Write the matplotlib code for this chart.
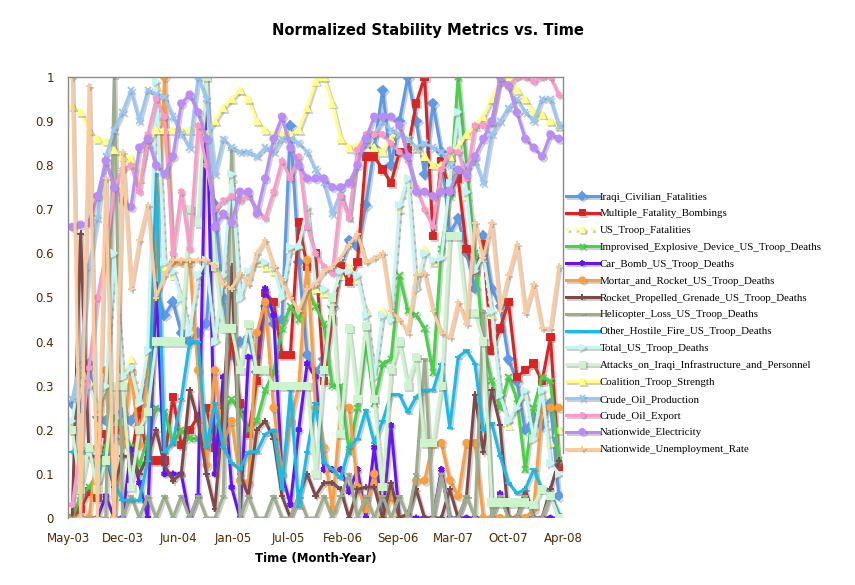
import numpy as np
import matplotlib
matplotlib.use('Agg')
import matplotlib.pyplot as plt
import matplotlib.patheffects as pe

# ---- data (normalized, 59 monthly points, May-03 .. Mar-08) ----
x_tick_labels = ['May-03', 'Dec-03', 'Jun-04', 'Jan-05', 'Jul-05', 'Feb-06',
                 'Sep-06', 'Mar-07', 'Oct-07', 'Apr-08']

iraqi_civilian_fatalities = [
    0.26, 0.25, 0.35, 0.23, 0.22, 0.18, 0.24, 0.22, 0.26, 0.31,
    0.52, 0.46, 0.49, 0.42, 0.40, 0.42, 0.44, 0.71, 0.50, 0.37,
    0.40, 0.41, 0.33, 0.48, 0.44, 0.45, 0.89, 0.58, 0.37, 0.33,
    0.36, 0.48, 0.57, 0.63, 0.615, 0.71, 0.84, 0.97, 0.80, 0.90,
    1.0, 0.90, 0.78, 0.94, 0.83, 0.645, 0.68, 0.60, 0.52, 0.64,
    0.52, 0.48, 0.36, 0.31, 0.20, 0.23, 0.21, 0.26, 0.05]
multiple_fatality_bombings = [
    0.0, 0.02, 0.06, 0.045, 0.19, 0.20, 0.20, 0.13, 0.25, 0.13,
    0.13, 0.13, 0.275, 0.165, 0.20, 0.23, 0.25, 0.16, 0.25, 0.41,
    0.26, 0.19, 0.31, 0.51, 0.49, 0.37, 0.37, 0.67, 0.57, 0.60,
    0.31, 0.45, 0.57, 0.535, 0.58, 0.82, 0.82, 0.79, 0.76, 0.83,
    0.835, 0.94, 1.0, 0.64, 0.81, 0.74, 0.77, 0.61, 0.56, 0.62,
    0.38, 0.43, 0.49, 0.32, 0.335, 0.35, 0.31, 0.41, 0.115]
us_troop_fatalities = [
    0.21, 0.34, 0.31, 0.24, 0.29, 0.59, 0.33, 0.36, 0.27, 0.37,
    0.98, 0.57, 0.55, 0.51, 0.43, 0.54, 0.58, 0.41, 0.54, 0.77,
    0.51, 0.55, 0.58, 0.57, 0.56, 0.51, 0.61, 0.62, 0.70, 0.52,
    0.51, 0.49, 0.55, 0.57, 0.54, 0.47, 0.33, 0.47, 0.46, 0.70,
    0.76, 0.53, 0.61, 0.58, 0.60, 0.75, 0.91, 0.73, 0.57, 0.59,
    0.46, 0.29, 0.21, 0.26, 0.28, 0.19, 0.28, 0.17, 0.20]
ied_deaths = [
    0.0, 0.05, 0.07, 0.10, 0.16, 0.23, 0.20, 0.16, 0.12, 0.18,
    0.25, 0.24, 0.17, 0.20, 0.18, 0.18, 0.16, 0.20, 0.24, 0.27,
    0.24, 0.20, 0.22, 0.29, 0.33, 0.43, 0.48, 0.45, 0.52, 0.48,
    0.44, 0.30, 0.30, 0.15, 0.25, 0.40, 0.26, 0.35, 0.36, 0.55,
    0.47, 0.46, 0.43, 0.33, 0.61, 0.73, 1.0, 0.80, 0.60, 0.40,
    0.31, 0.25, 0.32, 0.27, 0.11, 0.25, 0.32, 0.31, 0.13]
car_bomb_deaths = [
    0.0, 0.0, 0.0, 0.0, 0.05, 0.0, 0.0, 0.155, 0.08, 0.0,
    0.53, 0.10, 0.10, 0.10, 0.0, 0.05, 1.0, 0.10, 0.32, 0.07,
    0.0, 0.365, 0.365, 0.52, 0.46, 0.10, 0.03, 0.20, 0.35, 0.32,
    0.11, 0.11, 0.11, 0.06, 0.11, 0.0, 0.16, 0.0, 0.21, 0.0,
    0.0, 0.0, 0.0, 0.0, 0.11, 0.0, 0.0, 0.0, 0.0, 0.0,
    0.0, 0.055, 0.0, 0.0, 0.0, 0.0, 0.0, 0.0, 0.0]
mortar_rocket_deaths = [
    0.0, 0.0, 0.0, 0.16, 0.335, 0.0, 0.17, 0.335, 0.165, 0.33,
    0.58, 1.0, 0.58, 0.58, 0.58, 0.335, 0.12, 0.335, 0.17, 0.22,
    0.085, 0.08, 0.42, 0.49, 0.25, 0.10, 0.22, 0.30, 0.585, 0.25,
    0.16, 0.02, 0.25, 0.25, 0.07, 0.02, 0.10, 0.0, 0.05, 0.0,
    0.0, 0.085, 0.085, 0.17, 0.17, 0.086, 0.05, 0.17, 0.17, 0.0,
    0.0, 0.0, 0.0, 0.0, 0.0, 0.02, 0.25, 0.25, 0.25]
rpg_deaths = [
    0.0, 0.645, 0.14, 0.14, 0.14, 0.07, 0.14, 0.14, 0.10, 0.14,
    0.20, 0.12, 0.085, 0.10, 0.29, 0.22, 0.10, 0.02, 0.25, 0.57,
    0.10, 0.05, 0.20, 0.22, 0.18, 0.05, 0.0, 0.05, 0.10, 0.05,
    0.08, 0.08, 0.065, 0.0, 0.065, 0.07, 0.07, 0.0, 0.08, 0.0,
    0.01, 0.065, 0.0, 0.0, 0.0, 0.065, 0.0, 0.05, 0.28, 0.15,
    0.29, 0.21, 0.0, 0.0, 0.065, 0.0, 0.0, 0.065, 0.13]
helicopter_deaths = [
    0.0, 0.0, 0.0, 0.0, 0.0, 1.0, 0.0, 0.05, 0.0, 0.05,
    0.0, 0.05, 0.0, 0.05, 0.0, 0.05, 0.0, 0.0, 0.05, 0.84,
    0.0, 0.05, 0.0, 0.0, 0.05, 0.0, 0.0, 0.05, 0.0, 0.0,
    0.05, 0.0, 0.05, 0.10, 0.0, 0.05, 0.0, 0.05, 0.0, 0.05,
    0.0, 0.10, 0.36, 0.0, 0.10, 0.0, 0.0, 0.05, 0.0, 0.47,
    0.0, 0.05, 0.0, 0.0, 0.05, 0.0, 0.0, 0.05, 0.0]
other_hostile_fire_deaths = [
    0.15, 0.15, 0.15, 0.085, 0.15, 0.08, 0.04, 0.04, 0.04, 0.13,
    0.78, 0.15, 0.17, 0.27, 0.40, 0.40, 0.16, 0.26, 0.16, 0.125,
    0.11, 0.15, 0.15, 0.19, 0.20, 0.065, 0.29, 0.025, 0.15, 0.26,
    0.125, 0.11, 0.09, 0.16, 0.18, 0.245, 0.17, 0.22, 0.28, 0.28,
    0.24, 0.275, 0.29, 0.29, 0.35, 0.205, 0.365, 0.38, 0.35, 0.20,
    0.215, 0.14, 0.08, 0.056, 0.065, 0.11, 0.065, 0.056, 0.01]
total_us_troop_deaths = [
    0.22, 0.35, 0.30, 0.25, 0.30, 0.60, 0.32, 0.34, 0.26, 0.38,
    0.99, 0.58, 0.56, 0.50, 0.42, 0.55, 0.585, 0.40, 0.55, 0.78,
    0.50, 0.56, 0.585, 0.58, 0.57, 0.50, 0.615, 0.615, 0.705, 0.53,
    0.52, 0.50, 0.56, 0.56, 0.55, 0.46, 0.32, 0.46, 0.45, 0.71,
    0.77, 0.52, 0.60, 0.585, 0.59, 0.76, 0.92, 0.74, 0.56, 0.60,
    0.47, 0.28, 0.22, 0.25, 0.29, 0.18, 0.29, 0.125, 0.10]
attacks_infrastructure = [
    0.20, 0.065, 0.16, 0.065, 0.13, 0.30, 0.30, 0.07, 0.20, 0.24,
    0.40, 0.40, 0.40, 0.40, 0.70, 0.67, 1.0, 0.57, 0.43, 0.43,
    0.335, 0.44, 0.335, 0.335, 0.30, 0.30, 0.30, 0.30, 0.30, 0.10,
    0.335, 0.50, 0.19, 0.43, 0.27, 0.435, 0.27, 0.07, 0.335, 0.40,
    0.30, 0.365, 0.17, 0.17, 0.30, 0.64, 0.64, 0.465, 0.465, 0.40,
    0.035, 0.035, 0.035, 0.035, 0.035, 0.03, 0.065, 0.05, 0.0]
coalition_troop_strength = [
    0.935, 0.92, 0.88, 0.86, 0.855, 0.835, 0.82, 0.815, 0.77, 0.85,
    0.88, 0.88, 0.88, 0.88, 0.88, 0.88, 0.87, 0.90, 0.93, 0.95,
    0.97, 0.95, 0.90, 0.88, 0.87, 0.87, 0.87, 0.88, 0.93, 0.99,
    1.0, 0.94, 0.86, 0.84, 0.845, 0.85, 0.84, 0.83, 0.86, 0.88,
    0.86, 0.84, 0.82, 0.80, 0.80, 0.82, 0.84, 0.87, 0.89, 0.91,
    0.95, 0.99, 1.0, 0.97, 0.95, 0.92, 0.915, 0.90, 0.89]
crude_oil_production = [
    0.27, 0.36, 0.57, 0.68, 0.82, 0.88, 0.92, 0.97, 0.90, 0.97,
    0.96, 0.955, 0.91, 0.87, 0.84, 1.0, 0.95, 0.78, 0.86, 0.84,
    0.83, 0.83, 0.82, 0.84, 0.83, 0.86, 0.86, 0.85, 0.83, 0.79,
    0.76, 0.69, 0.74, 0.68, 0.83, 0.85, 0.87, 0.90, 0.88, 0.87,
    0.86, 0.84, 0.85, 0.84, 0.83, 0.80, 0.79, 0.80, 0.81, 0.76,
    0.87, 0.90, 0.93, 0.95, 0.92, 0.90, 0.95, 0.95, 0.89]
crude_oil_export = [
    0.03, 0.16, 0.34, 0.50, 0.60, 0.75, 0.79, 0.80, 0.74, 0.87,
    0.95, 0.91, 0.60, 0.74, 0.61, 0.89, 0.80, 0.70, 0.72, 0.73,
    0.72, 0.73, 0.70, 0.68, 0.74, 0.81, 0.77, 0.82, 0.66, 0.60,
    0.57, 0.555, 0.73, 0.68, 0.835, 0.87, 0.87, 0.87, 0.85, 0.83,
    0.81, 0.75, 0.70, 0.66, 0.79, 0.835, 0.83, 0.77, 0.89, 0.89,
    0.895, 0.99, 0.98, 1.0, 1.0, 0.99, 1.0, 1.0, 0.96]
nationwide_electricity = [
    0.66, 0.665, 0.67, 0.73, 0.81, 0.75, 0.72, 0.705, 0.84, 0.86,
    0.80, 0.78, 0.82, 0.94, 0.96, 0.92, 0.86, 0.66, 0.69, 0.67,
    0.74, 0.74, 0.69, 0.77, 0.86, 0.91, 0.84, 0.80, 0.77, 0.77,
    0.77, 0.75, 0.75, 0.76, 0.80, 0.86, 0.91, 0.91, 0.91, 0.89,
    0.82, 0.74, 0.74, 0.73, 0.74, 0.74, 0.79, 0.78, 0.82, 0.86,
    0.90, 1.0, 0.98, 0.92, 0.86, 0.84, 0.82, 0.87, 0.86]
unemployment_rate = [
    1.0, 0.0, 0.98, 0.0, 0.77, 0.0, 0.83, 0.52, 0.63, 0.71,
    0.50, 0.55, 0.585, 0.585, 0.585, 0.585, 0.585, 0.57, 0.53, 0.52,
    0.555, 0.53, 0.60, 0.63, 0.57, 0.54, 0.50, 0.47, 0.52, 0.53,
    0.56, 0.57, 0.59, 0.62, 0.645, 0.58, 0.59, 0.60, 0.47, 0.45,
    0.42, 0.55, 0.555, 0.47, 0.42, 0.41, 0.49, 0.44, 0.67, 0.59,
    0.67, 0.47, 0.55, 0.62, 0.465, 0.53, 0.43, 0.43, 0.57]

series = [
    ('Iraqi_Civilian_Fatalities', iraqi_civilian_fatalities, '#5B9BEA', 'D', '-'),
    ('Multiple_Fatality_Bombings', multiple_fatality_bombings, '#DD2222', 's', '-'),
    ('US_Troop_Fatalities', us_troop_fatalities, '#FFFF99', '^', ':'),
    ('Improvised_Explosive_Device_US_Troop_Deaths', ied_deaths, '#44D444', 'x', '-'),
    ('Car_Bomb_US_Troop_Deaths', car_bomb_deaths, '#6611FF', (6, 2, 0), '-'),
    ('Mortar_and_Rocket_US_Troop_Deaths', mortar_rocket_deaths, '#FF9E3D', 'o', '-'),
    ('Rocket_Propelled_Grenade_US_Troop_Deaths', rpg_deaths, '#804848', '+', '-'),
    ('Helicopter_Loss_US_Troop_Deaths', helicopter_deaths, '#9DAE8C', '_', '-'),
    ('Other_Hostile_Fire_US_Troop_Deaths', other_hostile_fire_deaths, '#14BDEB', '_', '-'),
    ('Total_US_Troop_Deaths', total_us_troop_deaths, '#C6F6F4', '>', '-'),
    ('Attacks_on_Iraqi_Infrastructure_and_Personnel', attacks_infrastructure, '#CCF5CC', 's', '-'),
    ('Coalition_Troop_Strength', coalition_troop_strength, '#FFFF88', '^', '-'),
    ('Crude_Oil_Production', crude_oil_production, '#99C8F8', 'x', '-'),
    ('Crude_Oil_Export', crude_oil_export, '#FF99CC', (6, 2, 0), '-'),
    ('Nationwide_Electricity', nationwide_electricity, '#BB8BF8', 'o', '-'),
    ('Nationwide_Unemployment_Rate', unemployment_rate, '#FFCA9A', '+', '-'),
]

fig = plt.figure(figsize=(8.55, 5.85), dpi=100)
ax = fig.add_axes([68 / 855, 1 - 518 / 585, 495 / 855, 441 / 585])

n = len(iraqi_civilian_fatalities)
xpos = np.arange(n) + 0.5
shadow = [pe.SimpleLineShadow(offset=(1.3, -1.3), shadow_color='#777777', alpha=0.35), pe.Normal()]

for label, vals, color, marker, ls in series:
    ax.plot(xpos, vals, color=color, lw=2.2, ls=ls, marker=marker, ms=4.6,
            mew=1.4, mec=color, mfc=color, label=label, path_effects=shadow,
            solid_joinstyle='round')

ax.set_xlim(0, n)
ax.set_ylim(0, 1)
ax.set_xticks(np.linspace(0, n, len(x_tick_labels)))
ax.set_xticklabels(x_tick_labels)
ax.set_yticks(np.linspace(0, 1, 11))
ax.set_yticklabels(['0', '0.1', '0.2', '0.3', '0.4', '0.5', '0.6', '0.7', '0.8', '0.9', '1'])
ax.tick_params(axis='both', length=0, labelsize=8.5, labelcolor='#4a2a00')
ax.tick_params(axis='y', pad=10)
ax.tick_params(axis='x', pad=10)

for s in ['left', 'top', 'right']:
    ax.spines[s].set_color('#8a8a8a')
    ax.spines[s].set_linewidth(1.0)
ax.spines['bottom'].set_visible(False)
ax.spines['right'].set_bounds(0.147, 1)

ax.set_xlabel('Time (Month-Year)', fontsize=8.5, fontweight='bold', labelpad=5)
fig.text(0.5, 1 - 30 / 585, 'Normalized Stability Metrics vs. Time', ha='center', va='center',
         fontsize=10.6, fontweight='bold')

leg = ax.legend(loc='upper left', bbox_to_anchor=(566 / 855, 1 - 192 / 585),
                bbox_transform=fig.transFigure, frameon=False,
                prop={'family': 'Liberation Serif', 'size': 7.8},
                handlelength=3.0, handletextpad=0.1, labelspacing=0.67,
                borderaxespad=0, borderpad=0, markerscale=0.85)

fig.savefig('out.png', dpi=100)
